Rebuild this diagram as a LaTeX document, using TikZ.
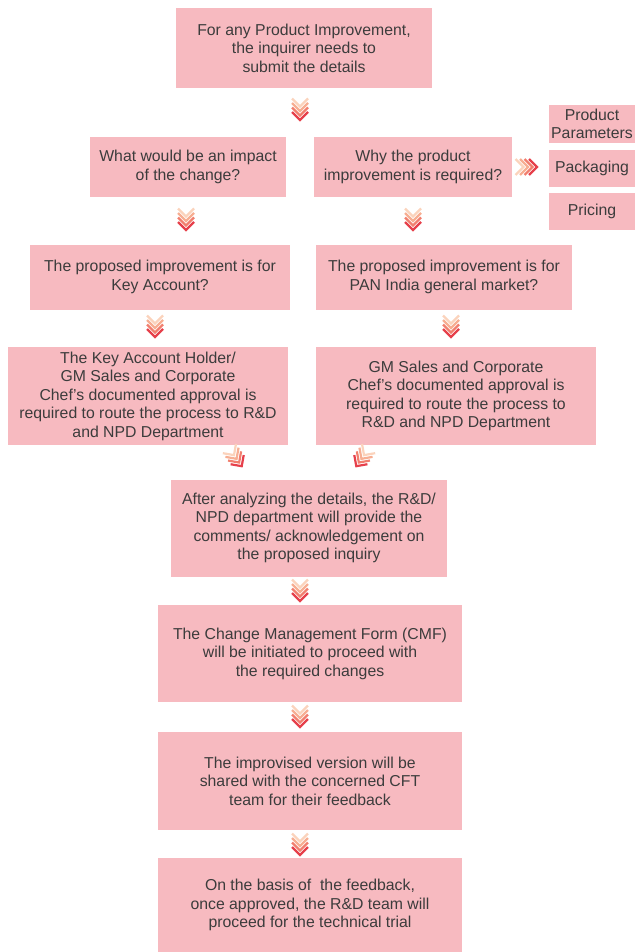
\documentclass[tikz,border=0pt]{standalone}
\usepackage{fontspec}
\setmainfont{Liberation Sans}

\definecolor{boxpink}{HTML}{F7BAC0}
\definecolor{boxtext}{HTML}{3C3C3C}
\definecolor{chevA}{HTML}{FBD3BC}
\definecolor{chevB}{HTML}{F7AE92}
\definecolor{chevC}{HTML}{F17F6E}
\definecolor{chevD}{HTML}{E6404B}

% stacked chevrons, pointing down before rotation
\newcommand{\chevrons}[2]{%
  \begin{scope}[shift={#1},rotate=#2,line width=2.2pt]
    \foreach \c [count=\i] in {chevA,chevB,chevC,chevD}
      \draw[\c] (-8,{2+4.5*(\i-4)}) -- (0,{10+4.5*(\i-4)}) -- (8,{2+4.5*(\i-4)});
  \end{scope}}

\begin{document}
\begin{tikzpicture}[x=1pt,y=-1pt,
    box/.style={fill=boxpink,text=boxtext,align=center,inner sep=0pt,
      font=\fontsize{15.8}{18.5}\selectfont},
    side/.style={box,minimum width=86pt}]
  \useasboundingbox (0,0) rectangle (635,952);
  \draw
    (304,48) node[box,minimum width=256pt,minimum height=80pt] (start)
      {For any Product Improvement,\\the inquirer needs to\\submit the details}
    (188,167) node[box,minimum width=196pt,minimum height=60pt] (impact)
      {What would be an impact\\of the change?}
    (413,167) node[box,minimum width=198pt,minimum height=60pt] (why)
      {Why the product\\improvement is required?}
    (592,124) node[side,minimum height=38pt] (params) {Product\\Parameters}
    (592,168.5) node[side,minimum height=37pt] (pack) {Packaging}
    (592,211.5) node[side,minimum height=37pt] (price) {Pricing}
    (160,277) node[box,minimum width=260pt,minimum height=65pt] (keyacc)
      {The proposed improvement is for\\Key Account?}
    (444,277) node[box,minimum width=256pt,minimum height=65pt] (pan)
      {The proposed improvement is for\\PAN India general market?}
    (148,396) node[box,minimum width=280pt,minimum height=98pt] (holder)
      {The Key Account Holder/\\GM Sales and Corporate\\Chef's documented approval is\\required to route the process to R\&D\\and NPD Department}
    (456,396) node[box,minimum width=280pt,minimum height=98pt] (gmsales)
      {GM Sales and Corporate\\Chef's documented approval is\\required to route the process to\\R\&D and NPD Department}
    (309,528) node[box,minimum width=276pt,minimum height=97pt] (analyse)
      {After analyzing the details, the R\&D/\\NPD department will provide the\\comments/ acknowledgement on\\the proposed inquiry}
    (310,653.5) node[box,minimum width=304pt,minimum height=97pt] (cmf)
      {The Change Management Form (CMF)\\will be initiated to proceed with\\the required changes}
    (310,781) node[box,minimum width=304pt,minimum height=98pt] (improv)
      {The improvised version will be\\shared with the concerned CFT\\team for their feedback}
    (310,905) node[box,minimum width=304pt,minimum height=94pt] (trial)
      {On the basis of\ \ the feedback,\\once approved, the R\&D team will\\proceed for the technical trial};

  \chevrons{(300,110)}{0}
  \chevrons{(186,220)}{0}
  \chevrons{(413,220)}{0}
  \chevrons{(527,167)}{90}
  \chevrons{(155,327)}{0}
  \chevrons{(451,327)}{0}
  \chevrons{(236,458)}{35}
  \chevrons{(362,458)}{-35}
  \chevrons{(300,591)}{0}
  \chevrons{(300,717)}{0}
  \chevrons{(300,845)}{0}
\end{tikzpicture}
\end{document}
